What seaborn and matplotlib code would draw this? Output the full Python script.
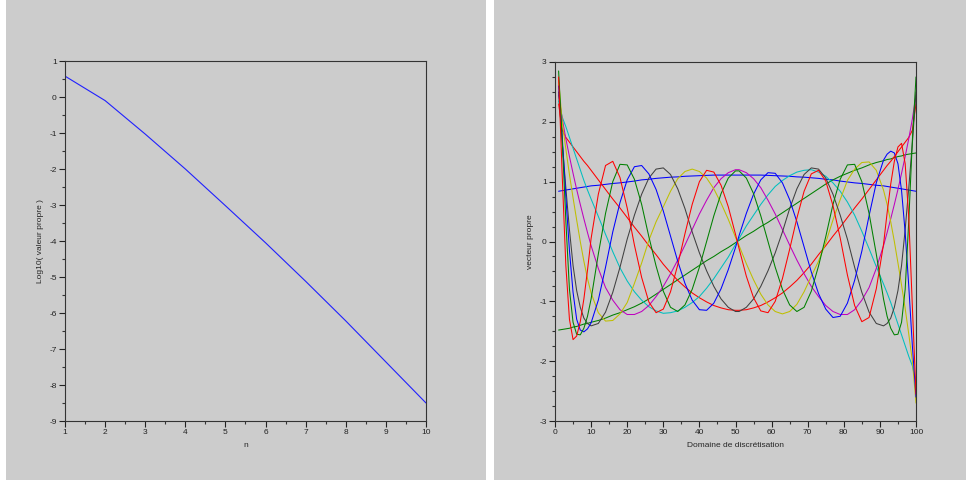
import matplotlib
matplotlib.use("Agg")
import matplotlib.pyplot as plt
from matplotlib.patches import Rectangle
from matplotlib.ticker import MultipleLocator
import pandas as pd
import seaborn as sns

# left panel: log10 of the eigenvalues
n = [1, 2, 3, 4, 5, 6, 7, 8, 9, 10]
log_valeur = [0.58, -0.10, -1.03, -2.00, -3.02, -4.05, -5.12, -6.22, -7.36, -8.50]

# right panel: eigenvectors on the discretisation domain
x_domain = [1, 2, 3, 4, 5, 6, 7, 8, 9, 10, 12, 14, 16, 18, 20, 22, 24, 26, 28, 30,
            32, 34, 36, 38, 40, 42, 44, 46, 48, 50,
            51, 53, 55, 57, 59, 61, 63, 65, 67, 69, 71, 73, 75, 77, 79, 81, 83, 85, 87, 89,
            91, 92, 93, 94, 95, 96, 97, 98, 99, 100]

mode0 = [0.84, 0.85, 0.86, 0.87, 0.88, 0.89, 0.90, 0.91, 0.92, 0.93, 0.94, 0.955, 0.97, 0.98, 0.995,
         1.01, 1.03, 1.04, 1.055, 1.065, 1.075, 1.08, 1.09, 1.095, 1.10, 1.105, 1.11, 1.11, 1.11, 1.11,
         1.11, 1.11, 1.11, 1.11, 1.105, 1.10, 1.095, 1.09, 1.08, 1.075, 1.065, 1.055, 1.04, 1.03, 1.01,
         0.995, 0.98, 0.97, 0.955, 0.94, 0.93, 0.92, 0.91, 0.90, 0.89, 0.88, 0.87, 0.86, 0.85, 0.84]
mode1 = [-1.48, -1.47, -1.46, -1.45, -1.43, -1.42, -1.40, -1.38, -1.37, -1.35, -1.32, -1.28, -1.23, -1.19, -1.14,
         -1.09, -1.03, -0.96, -0.88, -0.80, -0.72, -0.64, -0.56, -0.48, -0.40, -0.32, -0.25, -0.17, -0.10, -0.02,
         0.02, 0.10, 0.17, 0.25, 0.32, 0.40, 0.48, 0.56, 0.64, 0.72, 0.80, 0.88, 0.96, 1.03, 1.09,
         1.14, 1.19, 1.23, 1.28, 1.32, 1.35, 1.37, 1.38, 1.40, 1.42, 1.43, 1.45, 1.46, 1.47, 1.48]
mode2 = [2.30, 1.86, 1.74, 1.66, 1.58, 1.50, 1.42, 1.34, 1.27, 1.19, 1.03, 0.87, 0.71, 0.56, 0.40,
         0.24, 0.09, -0.07, -0.22, -0.38, -0.52, -0.65, -0.76, -0.86, -0.94, -1.01, -1.07, -1.11, -1.14, -1.15,
         -1.15, -1.14, -1.11, -1.07, -1.01, -0.94, -0.86, -0.76, -0.65, -0.52, -0.38, -0.22, -0.07, 0.09, 0.24,
         0.40, 0.56, 0.71, 0.87, 1.03, 1.19, 1.27, 1.34, 1.42, 1.50, 1.58, 1.66, 1.74, 1.86, 2.30]
mode3 = [2.35, 2.08, 1.92, 1.74, 1.56, 1.38, 1.20, 1.02, 0.86, 0.71, 0.42, 0.12, -0.17, -0.44, -0.66,
         -0.84, -0.98, -1.09, -1.16, -1.20, -1.19, -1.16, -1.10, -1.02, -0.92, -0.78, -0.62, -0.44, -0.26, -0.05,
         0.05, 0.26, 0.44, 0.62, 0.78, 0.92, 1.02, 1.10, 1.16, 1.19, 1.20, 1.16, 1.09, 0.98, 0.84,
         0.66, 0.44, 0.17, -0.12, -0.42, -0.71, -0.86, -1.02, -1.20, -1.38, -1.56, -1.74, -1.92, -2.08, -2.35]
mode4 = [2.45, 2.05, 1.72, 1.42, 1.14, 0.87, 0.62, 0.38, 0.15, -0.07, -0.45, -0.77, -0.98, -1.14, -1.22,
         -1.22, -1.17, -1.07, -0.92, -0.75, -0.54, -0.31, -0.06, 0.20, 0.46, 0.69, 0.90, 1.05, 1.15, 1.20,
         1.20, 1.15, 1.05, 0.90, 0.69, 0.46, 0.20, -0.06, -0.31, -0.54, -0.75, -0.92, -1.07, -1.17, -1.22,
         -1.22, -1.14, -0.98, -0.77, -0.45, -0.07, 0.15, 0.38, 0.62, 0.87, 1.14, 1.42, 1.72, 2.05, 2.45]
mode5 = [2.70, 2.00, 1.55, 1.12, 0.73, 0.36, 0.00, -0.33, -0.62, -0.86, -1.19, -1.33, -1.32, -1.21, -1.02,
         -0.70, -0.36, 0.02, 0.33, 0.58, 0.84, 1.05, 1.17, 1.21, 1.17, 1.06, 0.88, 0.64, 0.37, 0.07,
         -0.07, -0.37, -0.64, -0.88, -1.06, -1.17, -1.21, -1.17, -1.05, -0.84, -0.58, -0.33, -0.02, 0.36, 0.70,
         1.02, 1.21, 1.32, 1.33, 1.19, 0.86, 0.62, 0.33, 0.00, -0.36, -0.73, -1.12, -1.55, -2.00, -2.70]
mode6 = [2.50, 1.65, 0.90, 0.20, -0.40, -0.82, -1.10, -1.28, -1.37, -1.41, -1.37, -1.18, -0.85, -0.43, 0.04,
         0.44, 0.79, 1.06, 1.21, 1.23, 1.12, 0.88, 0.55, 0.16, -0.19, -0.49, -0.75, -0.96, -1.10, -1.17,
         -1.17, -1.10, -0.96, -0.75, -0.49, -0.19, 0.16, 0.55, 0.88, 1.12, 1.23, 1.21, 1.06, 0.79, 0.44,
         0.04, -0.43, -0.85, -1.18, -1.37, -1.41, -1.37, -1.28, -1.10, -0.82, -0.40, 0.20, 0.90, 1.65, 2.50]
mode7 = [2.60, 1.75, 0.75, -0.15, -0.85, -1.30, -1.48, -1.51, -1.46, -1.36, -0.98, -0.43, 0.16, 0.65, 1.03,
         1.25, 1.27, 1.13, 0.87, 0.51, 0.09, -0.33, -0.70, -0.98, -1.14, -1.15, -1.03, -0.79, -0.47, -0.10,
         0.10, 0.47, 0.79, 1.03, 1.15, 1.14, 0.98, 0.70, 0.33, -0.09, -0.51, -0.87, -1.13, -1.27, -1.25,
         -1.03, -0.65, -0.16, 0.43, 0.98, 1.36, 1.46, 1.51, 1.48, 1.30, 0.85, 0.15, -0.75, -1.75, -2.60]
mode8 = [2.85, 1.70, 0.35, -0.80, -1.35, -1.55, -1.56, -1.45, -1.25, -0.96, -0.21, 0.47, 1.00, 1.29, 1.28,
         1.04, 0.62, 0.08, -0.41, -0.83, -1.10, -1.17, -1.06, -0.80, -0.43, 0.00, 0.43, 0.80, 1.06, 1.18,
         1.18, 1.06, 0.80, 0.43, 0.00, -0.43, -0.80, -1.06, -1.17, -1.10, -0.83, -0.41, 0.08, 0.62, 1.04,
         1.28, 1.29, 1.00, 0.47, -0.21, -0.96, -1.25, -1.45, -1.56, -1.55, -1.35, -0.80, 0.35, 1.70, 2.75]
mode9 = [2.75, 1.10, -0.40, -1.30, -1.64, -1.58, -1.34, -0.96, -0.48, 0.05, 0.79, 1.27, 1.34, 1.07, 0.56,
         -0.06, -0.60, -1.01, -1.19, -1.13, -0.84, -0.39, 0.13, 0.62, 1.00, 1.19, 1.16, 0.94, 0.58, 0.12,
         -0.12, -0.58, -0.94, -1.16, -1.19, -1.00, -0.62, -0.13, 0.39, 0.84, 1.13, 1.19, 1.01, 0.60, 0.06,
         -0.56, -1.07, -1.34, -1.27, -0.79, -0.05, 0.48, 0.96, 1.34, 1.58, 1.64, 1.30, 0.40, -1.10, -2.55]

modes = [mode0, mode1, mode2, mode3, mode4, mode5, mode6, mode7, mode8, mode9]
# scilab plot() colour order
couleurs = ["#0000ff", "#008000", "#ff0000", "#00bfbf", "#bf00bf",
            "#bfbf00", "#404040", "#0000ff", "#008000", "#ff0000"]

rows = []
for k, ys in enumerate(modes):
    for xv, yv in zip(x_domain, ys):
        rows.append({"mode": k, "x": xv, "y": yv})
df = pd.DataFrame(rows)
palette = {k: c for k, c in enumerate(couleurs)}

sns.set_style("ticks")
plt.rcParams["font.family"] = ["Liberation Sans", "DejaVu Sans"]
plt.rcParams["axes.unicode_minus"] = False

W, H = 966, 480
grey = "#cccccc"
fs = 6
fig = plt.figure(figsize=(W / 100, H / 100), dpi=100)
fig.patch.set_facecolor("white")
fig.add_artist(Rectangle((5.5 / W, 0), 480 / W, 1, transform=fig.transFigure,
                         facecolor=grey, edgecolor="none", zorder=-10))
fig.add_artist(Rectangle((494.5 / W, 0), 471.5 / W, 1, transform=fig.transFigure,
                         facecolor=grey, edgecolor="none", zorder=-10))

ax1 = fig.add_axes([65 / W, 59 / H, 361 / W, 360 / H])
ax2 = fig.add_axes([555 / W, 59 / H, 361 / W, 359 / H])

sns.lineplot(x=n, y=log_valeur, ax=ax1, color="#2020ff", lw=0.8)
sns.lineplot(data=df, x="x", y="y", hue="mode", palette=palette, legend=False,
             estimator=None, lw=0.75, ax=ax2)

ax1.set_xlim(1, 10)
ax1.set_ylim(-9, 1)
ax1.xaxis.set_major_locator(MultipleLocator(1))
ax1.xaxis.set_minor_locator(MultipleLocator(0.5))
ax1.yaxis.set_major_locator(MultipleLocator(1))
ax1.yaxis.set_minor_locator(MultipleLocator(0.5))
ax1.set_xlabel("n", fontsize=fs, labelpad=4)
ax1.set_ylabel("Log10( valeur propre )", fontsize=fs, labelpad=4)

ax2.set_xlim(0, 100)
ax2.set_ylim(-3, 3)
ax2.xaxis.set_major_locator(MultipleLocator(10))
ax2.xaxis.set_minor_locator(MultipleLocator(5))
ax2.yaxis.set_major_locator(MultipleLocator(1))
ax2.yaxis.set_minor_locator(MultipleLocator(0.25))
ax2.set_xlabel("Domaine de discrétisation", fontsize=fs, labelpad=4)
ax2.set_ylabel("vecteur propre", fontsize=fs, labelpad=4)

for ax in (ax1, ax2):
    ax.set_facecolor(grey)
    for s in ax.spines.values():
        s.set_visible(True)
        s.set_color("#333333")
        s.set_linewidth(0.8)
    ax.tick_params(which="major", direction="out", length=4, width=0.8,
                   labelsize=fs, pad=2, colors="#222222")
    ax.tick_params(which="minor", direction="out", length=2.2, width=0.8, colors="#333333")

fig.savefig("out.png", dpi=100)
